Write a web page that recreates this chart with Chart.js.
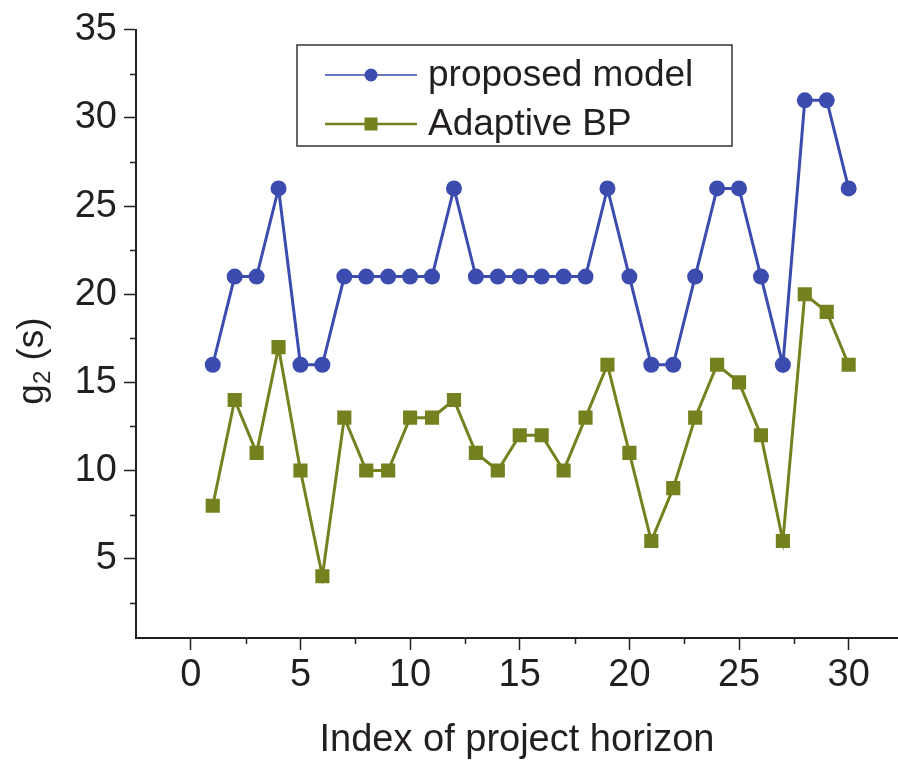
<!DOCTYPE html>
<html>
<head>
<meta charset="utf-8">
<script src="https://cdn.jsdelivr.net/npm/chart.js@4/dist/chart.umd.min.js"></script>
<style>
  html, body { margin: 0; padding: 0; background: #fff; }
  #wrap { width: 898px; height: 765px; position: relative; }
</style>
</head>
<body>
<div id="wrap"><canvas id="chart" width="898" height="765"></canvas></div>
<script>
// data
const horizon = [1, 2, 3, 4, 5, 6, 7, 8, 9, 10, 11, 12, 13, 14, 15, 16, 17, 18, 19, 20, 21, 22, 23, 24, 25, 26, 27, 28, 29, 30];
const proposedModel = [16, 21, 21, 26, 16, 16, 21, 21, 21, 21, 21, 26, 21, 21, 21, 21, 21, 21, 26, 21, 16, 16, 21, 26, 26, 21, 16, 31, 31, 26];
const adaptiveBP = [8, 14, 11, 17, 10, 4, 13, 10, 10, 13, 13, 14, 11, 10, 12, 12, 10, 13, 16, 11, 6, 9, 13, 16, 15, 12, 6, 20, 19, 16];

const xTicks = [0, 5, 10, 15, 20, 25, 30];
const xMinorTicks = [2.5, 7.5, 12.5, 17.5, 22.5, 27.5];
const yTicks = [5, 10, 15, 20, 25, 30, 35];
const yMinorTicks = [2.5, 7.5, 12.5, 17.5, 22.5, 27.5, 32.5];

const BLUE = '#3b4cae';
const GREEN = '#75801f';
const INK = '#231f20';
const FONT = '"Liberation Sans", Arial, sans-serif';

const toPoints = ys => ys.map((y, i) => ({ x: horizon[i], y }));

// minor tick marks (shorter than the major ones)
const minorTicks = {
  id: 'minorTicks',
  afterDraw(chart) {
    const { ctx, scales: { x, y } } = chart;
    ctx.save();
    ctx.strokeStyle = INK;
    ctx.lineWidth = 1.5;
    ctx.beginPath();
    xMinorTicks.forEach(v => {
      const px = Math.round(x.getPixelForValue(v)) + 0.5;
      ctx.moveTo(px, y.bottom);
      ctx.lineTo(px, y.bottom + 6);
    });
    yMinorTicks.forEach(v => {
      const py = Math.round(y.getPixelForValue(v)) + 0.5;
      ctx.moveTo(x.left, py);
      ctx.lineTo(x.left - 6, py);
    });
    ctx.stroke();
    ctx.restore();
  }
};

// rotated y title, a bit below the axis centre as in the figure
const yTitle = {
  id: 'yTitle',
  afterDraw(chart) {
    const ctx = chart.ctx;
    ctx.save();
    ctx.translate(33, 361);
    ctx.rotate(-Math.PI / 2);
    ctx.fillStyle = INK;
    ctx.textBaseline = 'middle';
    const main = 'g';
    const sub = '2';
    const rest = ' (s)';
    ctx.font = '37px ' + FONT;
    const w1 = ctx.measureText(main).width;
    const w3 = ctx.measureText(rest).width;
    ctx.font = '24px ' + FONT;
    const w2 = ctx.measureText(sub).width;
    const x0 = -(w1 + w2 + w3) / 2;
    ctx.textAlign = 'left';
    ctx.font = '37px ' + FONT;
    ctx.fillText(main, x0, 0);
    ctx.font = '24px ' + FONT;
    ctx.fillText(sub, x0 + w1, 10);
    ctx.font = '37px ' + FONT;
    ctx.fillText(rest, x0 + w1 + w2, 0);
    ctx.restore();
  }
};

// boxed legend inside the plot
const boxLegend = {
  id: 'boxLegend',
  afterDraw(chart) {
    const ctx = chart.ctx;
    const box = { left: 297, top: 45, right: 732, bottom: 146 };
    const rows = [75, 124];
    ctx.save();
    ctx.strokeStyle = '#333';
    ctx.lineWidth = 1.5;
    ctx.strokeRect(box.left, box.top, box.right - box.left, box.bottom - box.top);
    chart.data.datasets.forEach((ds, i) => {
      const yy = rows[i];
      ctx.strokeStyle = ds.borderColor;
      ctx.lineWidth = i === 0 ? 1.5 : 2.5;
      ctx.beginPath();
      ctx.moveTo(325, yy);
      ctx.lineTo(417, yy);
      ctx.stroke();
      ctx.fillStyle = ds.backgroundColor;
      if (ds.pointStyle === 'rect') {
        ctx.fillRect(371 - 6.5, yy - 6.5, 13, 13);
      } else {
        ctx.beginPath();
        ctx.arc(371, yy, 6.5, 0, Math.PI * 2);
        ctx.fill();
      }
      ctx.fillStyle = INK;
      ctx.font = '37px ' + FONT;
      ctx.textBaseline = 'middle';
      ctx.textAlign = 'left';
      ctx.fillText(ds.label, 428, yy + 1);
    });
    ctx.restore();
  }
};

new Chart(document.getElementById('chart'), {
  type: 'line',
  data: {
    datasets: [
      {
        label: 'proposed model',
        data: toPoints(proposedModel),
        borderColor: BLUE,
        backgroundColor: BLUE,
        borderWidth: 3,
        pointStyle: 'circle',
        pointRadius: 8,
        pointBorderWidth: 0,
        tension: 0
      },
      {
        label: 'Adaptive BP',
        data: toPoints(adaptiveBP),
        borderColor: GREEN,
        backgroundColor: GREEN,
        borderWidth: 3,
        pointStyle: 'rect',
        pointRadius: 10,
        pointBorderWidth: 0,
        tension: 0
      }
    ]
  },
  options: {
    responsive: false,
    animation: false,
    layout: { autoPadding: false, padding: { top: 29, right: 0, left: 0, bottom: 0 } },
    plugins: {
      legend: { display: false },
      tooltip: { enabled: false }
    },
    scales: {
      x: {
        type: 'linear',
        min: -2.5,
        max: 32.25,
        afterBuildTicks: s => { s.ticks = xTicks.map(v => ({ value: v })); },
        afterFit: s => { s.height = 127; },
        border: { color: INK, width: 2 },
        grid: { drawOnChartArea: false, drawTicks: true, tickLength: 12, tickColor: INK, tickWidth: 1.5 },
        ticks: { autoSkip: false, maxRotation: 0, padding: 3, color: INK, font: { family: FONT, size: 38 } },
        title: {
          display: true,
          text: 'Index of project horizon',
          color: INK,
          font: { family: FONT, size: 38 },
          padding: { top: 0, bottom: 2 }
        }
      },
      y: {
        min: 0.5,
        max: 35,
        afterBuildTicks: s => { s.ticks = yTicks.map(v => ({ value: v })); },
        afterFit: s => { s.width = 136; },
        border: { color: INK, width: 2 },
        grid: { drawOnChartArea: false, drawTicks: true, tickLength: 12, tickColor: INK, tickWidth: 1.5 },
        ticks: { autoSkip: false, padding: 7, color: INK, font: { family: FONT, size: 38 } }
      }
    }
  },
  plugins: [minorTicks, yTitle, boxLegend]
});
</script>
</body>
</html>
